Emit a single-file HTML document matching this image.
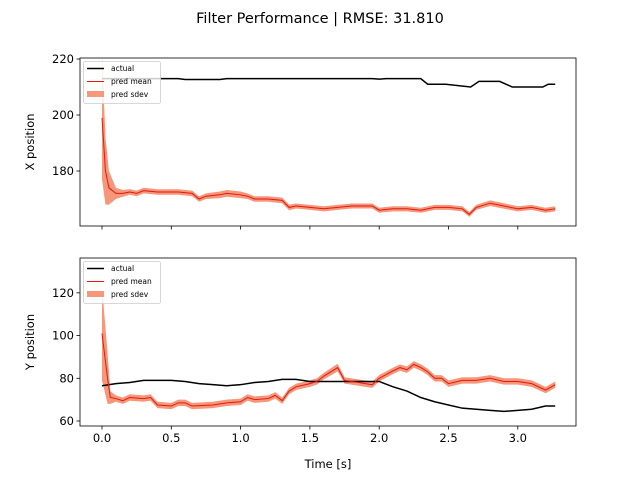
<!DOCTYPE html>
<html><head><meta charset="utf-8"><style>
body{margin:0;background:#fff}
svg{font-family:"DejaVu Sans","Liberation Sans",sans-serif}
</style></head><body>
<svg id="c" width="640" height="480" xmlns="http://www.w3.org/2000/svg">
<rect width="640" height="480" fill="#fff"/>
<text x="320" y="23" text-anchor="middle" font-size="14.5">Filter Performance | RMSE: 31.810</text>
</svg>
<script>
// top panel data
const xActT=[0,0.55,0.6,0.85,0.9,1.95,2.0,2.05,2.3,2.35,2.48,2.66,2.72,2.87,2.96,3.18,3.22,3.27];
const xActV=[213,213,212.7,212.7,213,213,212.8,213,213,211,211,210,212,212,210,210,211,211];
const xPredT=[0,0.025,0.05,0.1,0.15,0.2,0.25,0.3,0.4,0.5,0.55,0.65,0.7,0.75,0.85,0.9,1.0,1.05,1.1,1.2,1.3,1.35,1.4,1.5,1.6,1.7,1.8,1.95,2.0,2.1,2.2,2.3,2.4,2.5,2.6,2.65,2.7,2.8,2.9,3.0,3.1,3.2,3.27];
const xPredV=[199,180,174,172,172,172.5,172,173,172.5,172.5,172.5,172,170,171,171.5,172,171.5,171,170,170,169.5,167,167.5,167,166.5,167,167.5,167.5,166,166.5,166.5,166,167,167,166.5,164.5,167,168.5,167.5,166.5,167,166,166.5];
const xPredSd=[22,12,6,2,1.2,1,1,1,1,1,1,1,1,1,1.2,1.2,1.2,1,1,1,1,1,0.9,0.9,0.9,0.9,0.9,0.9,0.9,0.9,0.9,0.9,0.9,0.9,0.9,0.9,0.9,1,1,0.9,0.9,0.9,0.9];
// bottom panel data
const yActT=[0,0.1,0.2,0.3,0.5,0.6,0.7,0.8,0.9,1.0,1.1,1.2,1.3,1.4,1.5,1.6,1.95,2.0,2.1,2.2,2.3,2.4,2.5,2.6,2.7,2.8,2.9,3.0,3.1,3.2,3.27];
const yActV=[76.5,77.5,78,79,79,78.5,77.5,77,76.5,77,78,78.5,79.5,79.5,78.5,78.5,78.5,78.5,76,74,71,69,67.5,66,65.5,65,64.5,65,65.5,67,67];
const yPredT=[0,0.04,0.06,0.1,0.15,0.2,0.3,0.35,0.4,0.5,0.55,0.6,0.65,0.8,0.9,1.0,1.05,1.1,1.2,1.25,1.3,1.35,1.4,1.5,1.55,1.6,1.7,1.75,1.85,1.9,1.95,2.0,2.1,2.15,2.2,2.25,2.3,2.35,2.4,2.45,2.5,2.6,2.7,2.8,2.9,3.0,3.1,3.2,3.27];
const yPredV=[101,80,71,70.5,69.5,71,70.5,71,67.5,67,68.5,68.5,67,67.5,68.5,69,71,70,70.5,72,69.5,74,76,77.5,78.5,81,85,79,78,77.5,77,80,83.5,85,84,86.5,85,83,80,80,77.5,79,79,80,78.5,78.5,77.5,74.5,77];
const yPredSd=[22,12,3,1.5,1.5,1.5,1.5,1.5,1.5,1.5,1.5,1.5,1.5,1.5,1.5,1.5,1.5,1.5,1.5,1.5,1.5,1.5,1.5,1.5,1.5,1.5,1.8,1.5,1.5,1.5,1.5,1.5,1.5,1.5,1.5,1.5,1.5,1.5,1.5,1.5,1.5,1.5,1.5,1.5,1.5,1.5,1.5,1.5,1.5];
const xTicks=[0,0.5,1,1.5,2,2.5,3];
const xTickLabels=["0.0","0.5","1.0","1.5","2.0","2.5","3.0"];

const NS="http://www.w3.org/2000/svg";
const svg=document.getElementById('c');
function el(t,a,p){const e=document.createElementNS(NS,t);for(const k in a)e.setAttribute(k,a[k]);(p||svg).appendChild(e);return e;}
const L=80,R=576;
const sx=t=>102+t*138.6;

function panel(name,top,bot,ymin,ymax,yticks,ylabel,aT,aV,pT,pV,pS,showX){
  const sy=v=>bot-(v-ymin)/(ymax-ymin)*(bot-top);
  const g=el('g',{});
  
  
  const cid=name+'clip';
  const cp=el('clipPath',{id:cid},g);el('rect',{x:L,y:top,width:R-L,height:bot-top},cp);
  const d=el('g',{'clip-path':'url(#'+cid+')'},g);
  let up=pT.map((t,i)=>sx(t)+','+sy(pV[i]+pS[i]));
  let dn=pT.map((t,i)=>sx(t)+','+sy(pV[i]-pS[i])).reverse();
  const band=el('polygon',{points:up.concat(dn).join(' '),fill:'#f4977a',stroke:'none'},d);
  
  
  const act=el('polyline',{points:aT.map((t,i)=>sx(t)+','+sy(aV[i])).join(' '),fill:'none',stroke:'#000','stroke-width':1.5},d);
  
  
  const pm=el('polyline',{points:pT.map((t,i)=>sx(t)+','+sy(pV[i])).join(' '),fill:'none',stroke:'#e8160c','stroke-width':1},d);
  
  
  el('rect',{x:L,y:top,width:R-L,height:bot-top,fill:'none',stroke:'#000','stroke-width':0.8},g);
  yticks.forEach(v=>{const y=sy(v);el('line',{x1:L-3.5,x2:L,y1:y,y2:y,stroke:'#000','stroke-width':0.8},g);
    const tx=el('text',{x:L-6,y:y+4,'text-anchor':'end','font-size':11.5},g);tx.textContent=v;
    
    });
  xTicks.forEach((v,i)=>{const x=sx(v);el('line',{x1:x,x2:x,y1:bot,y2:bot+3.5,stroke:'#000','stroke-width':0.8},g);
    if(showX){const tx=el('text',{x:x,y:bot+16,'text-anchor':'middle','font-size':11.5},g);tx.textContent=xTickLabels[i];
      
      }});
  const yl=el('text',{x:0,y:0,transform:'translate(34,'+((top+bot)/2)+') rotate(-90)','text-anchor':'middle','font-size':11.5},g);
  yl.textContent=ylabel;
  
  
  // legend
  const lg=el('g',{},g);
  
  
  el('rect',{x:83.5,y:top+3.5,width:77,height:42,rx:2,fill:'#fff','fill-opacity':0.8,stroke:'#ccc','stroke-width':0.8},lg);
  el('line',{x1:87,x2:104,y1:top+10.5,y2:top+10.5,stroke:'#000','stroke-width':1.5},lg);
  el('line',{x1:87,x2:104,y1:top+23.5,y2:top+23.5,stroke:'#e8160c','stroke-width':1},lg);
  el('rect',{x:87,y:top+33,width:17,height:6,fill:'#f4977a'},lg);
  [['actual',13],['pred mean',26],['pred sdev',39]].forEach(a=>{const t=el('text',{x:111,y:top+a[1],'font-size':7.5},lg);t.textContent=a[0];
    
    });
}
panel('x-position',58,226,160.36,220.36,[180,200,220],'X position',xActT,xActV,xPredT,xPredV,xPredSd,false);
panel('y-position',258,426,57.66,136.3,[60,80,100,120],'Y position',yActT,yActV,yPredT,yPredV,yPredSd,true);
const xl=el('text',{x:328,y:468,'text-anchor':'middle','font-size':11.5});
xl.textContent='Time [s]';


</script>
</body></html>
